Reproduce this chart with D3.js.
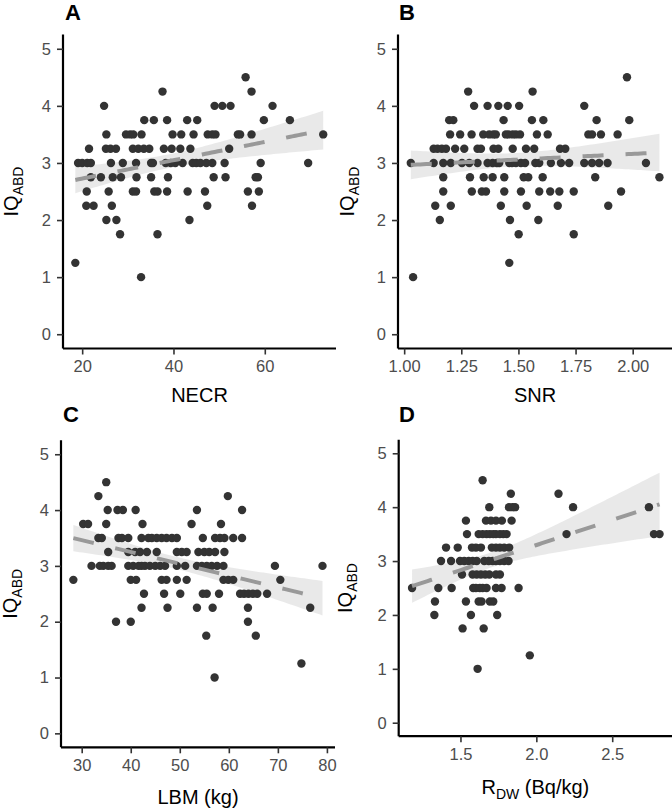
<!DOCTYPE html>
<html><head><meta charset="utf-8">
<script src="https://cdn.jsdelivr.net/npm/d3@7"></script>
<style>
body{margin:0;background:#fff}
svg{display:block}
text{font-family:"Liberation Sans", Arial, sans-serif}
</style>
</head><body>
<svg id="chart" width="672" height="808"></svg>
<script>
// ---- Data (IQ_ABD level, list of x values at that level) ----
const necrRows = [
  [4.5, [55.8]],
  [4.25, [37.6, 57.1]],
  [4.0, [24.8, 49.0, 50.7, 52.5, 61.7]],
  [3.75, [33.6, 35.7, 38.6, 43.0, 45.2, 59.8, 65.5]],
  [3.5, [25.3, 29.6, 30.5, 31.2, 33.0, 39.8, 41.7, 44.4, 47.5, 48.5, 49.2, 54.1, 54.6, 57.1, 72.8]],
  [3.25, [21.5, 25.2, 26.2, 27.4, 31.1, 32.3, 33.5, 34.7, 37.9, 39.6, 41.5, 43.7, 52.2]],
  [3.0, [19.1, 20.0, 21.1, 21.9, 26.3, 28.9, 31.8, 35.1, 35.5, 38.3, 39.4, 40.4, 42.0, 44.2, 45.0, 45.9, 47.2, 48.5, 51.2, 59.1, 69.5]],
  [2.75, [21.9, 24.1, 26.7, 28.5, 31.9, 35.1, 38.8, 48.8, 51.4, 58.0, 58.5]],
  [2.5, [21.0, 25.8, 31.1, 31.8, 35.8, 36.5, 38.6, 43.1, 46.9, 56.3, 58.7]],
  [2.25, [20.9, 22.5, 26.5, 47.4, 57.2]],
  [2.0, [25.3, 27.5, 43.5]],
  [1.75, [28.3, 36.5]],
  [1.25, [18.5]],
  [1.0, [32.9]]
];
const snrRows = [
  [4.5, [1.975]],
  [4.25, [1.28, 1.562]],
  [4.0, [1.306, 1.365, 1.412, 1.453, 1.503, 1.788]],
  [3.75, [1.197, 1.215, 1.435, 1.559, 1.609, 1.842, 1.985]],
  [3.5, [1.201, 1.245, 1.295, 1.346, 1.372, 1.39, 1.401, 1.445, 1.457, 1.475, 1.489, 1.507, 1.581, 1.628, 1.806, 1.822, 1.861, 1.934]],
  [3.25, [1.129, 1.146, 1.165, 1.183, 1.223, 1.263, 1.321, 1.336, 1.391, 1.412, 1.475, 1.533, 1.569, 1.682, 1.705]],
  [3.0, [1.029, 1.129, 1.171, 1.204, 1.253, 1.285, 1.321, 1.365, 1.387, 1.406, 1.416, 1.46, 1.472, 1.489, 1.511, 1.529, 1.574, 1.591, 1.642, 1.686, 1.722, 1.788, 1.822, 1.853, 1.89, 2.058]],
  [2.75, [1.171, 1.288, 1.348, 1.387, 1.438, 1.523, 1.543, 1.606, 1.836, 2.117]],
  [2.5, [1.171, 1.296, 1.34, 1.358, 1.438, 1.511, 1.591, 1.639, 1.679, 1.742, 1.949]],
  [2.25, [1.136, 1.204, 1.423, 1.536, 1.672, 1.893]],
  [2.0, [1.156, 1.463, 1.587]],
  [1.75, [1.501, 1.742]],
  [1.25, [1.46]],
  [1.0, [1.039]]
];
const lbmRows = [
  [4.5, [35.0]],
  [4.25, [33.4, 59.8]],
  [4.0, [35.3, 37.3, 38.4, 41.0, 53.5, 62.7]],
  [3.75, [30.3, 31.3, 35.0, 42.4, 52.4, 58.4]],
  [3.5, [33.4, 34.1, 37.5, 38.2, 39.5, 42.2, 43.6, 44.3, 45.3, 46.3, 47.3, 48.4, 49.4, 54.7, 57.2, 58.2, 59.1, 60.9, 62.7]],
  [3.25, [35.4, 39.5, 40.9, 41.9, 43.3, 45.3, 49.4, 50.4, 51.4, 53.8, 55.0, 56.0, 57.2, 59.1]],
  [3.0, [32.0, 33.7, 34.4, 35.4, 36.1, 39.5, 40.5, 41.6, 42.2, 42.9, 43.9, 45.0, 46.0, 47.0, 49.4, 51.1, 53.5, 54.5, 55.5, 56.5, 57.6, 58.9, 69.4, 79.1]],
  [2.75, [28.3, 40.0, 41.1, 46.3, 47.3, 49.4, 51.4, 58.9, 59.9, 60.9, 70.5]],
  [2.5, [42.7, 46.8, 50.1, 54.7, 55.5, 58.0, 62.3, 63.1, 64.0, 64.9, 65.8, 67.8]],
  [2.25, [42.2, 47.5, 53.5, 56.7, 63.9, 76.6]],
  [2.0, [37.0, 40.0, 63.9]],
  [1.75, [55.4, 65.5]],
  [1.25, [74.8]],
  [1.0, [57.1]]
];
const rdwRows = [
  [4.5, [1.646]],
  [4.25, [1.832, 2.146]],
  [4.0, [1.69, 1.82, 1.843, 1.86, 2.242, 2.742]],
  [3.75, [1.536, 1.668, 1.701, 1.734, 1.773, 1.837]],
  [3.5, [1.543, 1.62, 1.646, 1.672, 1.694, 1.716, 1.734, 1.76, 1.782, 1.804, 2.199, 2.775, 2.812]],
  [3.25, [1.405, 1.482, 1.576, 1.602, 1.635, 1.707, 1.734, 1.76, 1.788, 1.821]],
  [3.0, [1.372, 1.438, 1.497, 1.525, 1.554, 1.58, 1.607, 1.657, 1.686, 1.712, 1.734, 1.76, 1.788, 1.817]],
  [2.75, [1.51, 1.58, 1.607, 1.635, 1.663, 1.69, 1.734, 1.76]],
  [2.5, [1.181, 1.354, 1.442, 1.584, 1.602, 1.628, 1.646, 1.672, 1.734, 1.771, 1.883]],
  [2.25, [1.332, 1.536, 1.62, 1.639, 1.694, 1.716]],
  [2.0, [1.328, 1.569, 1.742]],
  [1.75, [1.514, 1.653]],
  [1.25, [1.957]],
  [1.0, [1.613]]
];
const yTicks = [0, 1, 2, 3, 4, 5];
const necrTicks = [20, 40, 60];
const snrTicks = [1.00, 1.25, 1.50, 1.75, 2.00];
const lbmTicks = [30, 40, 50, 60, 70, 80];
const rdwTicks = [1.5, 2.0, 2.5];
const panelLabels = ["A", "B", "C", "D"];

// ---- Layout ----
const svg = d3.select("#chart");
const panels = [
  {label: panelLabels[0], rows: necrRows, ticks: necrTicks, fmt: d3.format("d"),
   xDom: [15.8, 75.6], x0: 63, x1: 336, y0: 348.5, y1: 34.5, lab: [65, 20], ytx: 18,
   xtitle: [{t: "NECR"}], xtY: 402},
  {label: panelLabels[1], rows: snrRows, ticks: snrTicks, fmt: d3.format(".2f"),
   xDom: [0.973, 2.172], x0: 398, x1: 672, y0: 348.5, y1: 34.5, lab: [399, 20], ytx: 354,
   xtitle: [{t: "SNR"}], xtY: 402},
  {label: panelLabels[2], rows: lbmRows, ticks: lbmTicks, fmt: d3.format("d"),
   xDom: [25.78, 81.65], x0: 61, x1: 335, y0: 747.3, y1: 440.3, lab: [63, 422], ytx: 17,
   xtitle: [{t: "LBM (kg)"}], xtY: 804},
  {label: panelLabels[3], rows: rdwRows, ticks: rdwTicks, fmt: d3.format(".1f"),
   xDom: [1.093, 2.894], x0: 398.7, x1: 672, y0: 736.2, y1: 439.8, lab: [399, 422], ytx: 352,
   xtitle: [{t: "R"}, {t: "DW", sub: true}, {t: " (Bq/kg)"}], xtY: 794}
];

function linfit(pts) {
  const n = pts.length;
  const mx = d3.mean(pts, d => d[0]), my = d3.mean(pts, d => d[1]);
  let sxx = 0, sxy = 0;
  pts.forEach(([x, y]) => { sxx += (x - mx) * (x - mx); sxy += (x - mx) * (y - my); });
  const b = sxy / sxx, a = my - b * mx;
  let sse = 0;
  pts.forEach(([x, y]) => { const r = y - (a + b * x); sse += r * r; });
  const s = Math.sqrt(sse / (n - 2));
  const df = n - 2, z = 1.959964;
  const t = z + (z * z * z + z) / (4 * df) + (5 * z ** 5 + 16 * z ** 3 + 3 * z) / (96 * df * df);
  return {a, b, s, n, mx, sxx, t};
}

panels.forEach(p => {
  const pts = [];
  p.rows.forEach(([lvl, xs]) => xs.forEach(x => pts.push([x, lvl])));
  const x = d3.scaleLinear().domain(p.xDom).range([p.x0, p.x1]);
  const y = d3.scaleLinear().domain([-0.25, 5.25]).range([p.y0, p.y1]);
  const g = svg.append("g");

  // fit + CI
  const f = linfit(pts);
  const [xmin, xmax] = d3.extent(pts, d => d[0]);
  const grid = d3.range(0, 81).map(i => xmin + (xmax - xmin) * i / 80);
  const band = grid.map(xv => {
    const yh = f.a + f.b * xv;
    const se = f.s * Math.sqrt(1 / f.n + (xv - f.mx) ** 2 / f.sxx);
    return {x: xv, y: yh, lo: yh - f.t * se, hi: yh + f.t * se};
  });
  g.append("path").datum(band)
    .attr("d", d3.area().x(d => x(d.x)).y0(d => y(d.lo)).y1(d => y(d.hi)))
    .attr("fill", "#999999").attr("fill-opacity", 0.22);

  // points
  g.append("g").selectAll("circle").data(pts).join("circle")
    .attr("cx", d => x(d[0])).attr("cy", d => y(d[1])).attr("r", 4.2)
    .attr("fill", "#333333");

  // fit line
  g.append("path").datum(band)
    .attr("d", d3.line().x(d => x(d.x)).y(d => y(d.y)))
    .attr("fill", "none").attr("stroke", "#999999").attr("stroke-width", 4)
    .attr("stroke-dasharray", "21 22");

  // axes
  const xa = g.append("g").attr("transform", `translate(0,${p.y0})`)
    .call(d3.axisBottom(x).tickValues(p.ticks).tickFormat(p.fmt).tickSize(6).tickPadding(6).tickSizeOuter(0));
  const ya = g.append("g").attr("transform", `translate(${p.x0},0)`)
    .call(d3.axisLeft(y).tickValues(yTicks).tickFormat(d3.format("d")).tickSize(6).tickPadding(6).tickSizeOuter(0));
  [xa, ya].forEach(a => {
    a.select(".domain").attr("stroke", "#000").attr("stroke-width", 2.2);
    a.selectAll(".tick line").attr("stroke", "#333").attr("stroke-width", 1.6);
    a.selectAll(".tick text").attr("fill", "#4d4d4d").attr("font-size", 16.5)
      .attr("font-family", "'Liberation Sans', Arial, sans-serif");
  });
  xa.selectAll(".domain").attr("d", `M${p.x0},0H${p.x1}`);
  ya.selectAll(".domain").attr("d", `M0,${p.y1}V${p.y0}`);

  // panel label
  svg.append("text").attr("x", p.lab[0]).attr("y", p.lab[1])
    .attr("font-size", 22).attr("font-weight", "bold").attr("fill", "#000").text(p.label);

  // x title
  const xt = svg.append("text").attr("x", (p.x0 + p.x1) / 2).attr("y", p.xtY)
    .attr("text-anchor", "middle").attr("font-size", 20).attr("fill", "#000");
  p.xtitle.forEach((s, i) => {
    const ts = xt.append("tspan").text(s.t);
    if (s.sub) ts.attr("font-size", 14).attr("dy", 5);
    else if (i > 0 && p.xtitle[i - 1].sub) ts.attr("dy", -5);
  });

  // y title
  const yt = svg.append("text")
    .attr("transform", `translate(${p.ytx},${(p.y0 + p.y1) / 2}) rotate(-90)`)
    .attr("text-anchor", "middle").attr("font-size", 20).attr("fill", "#000");
  yt.append("tspan").text("IQ");
  yt.append("tspan").text("ABD").attr("font-size", 14).attr("dy", 5);
});
</script>
</body></html>
